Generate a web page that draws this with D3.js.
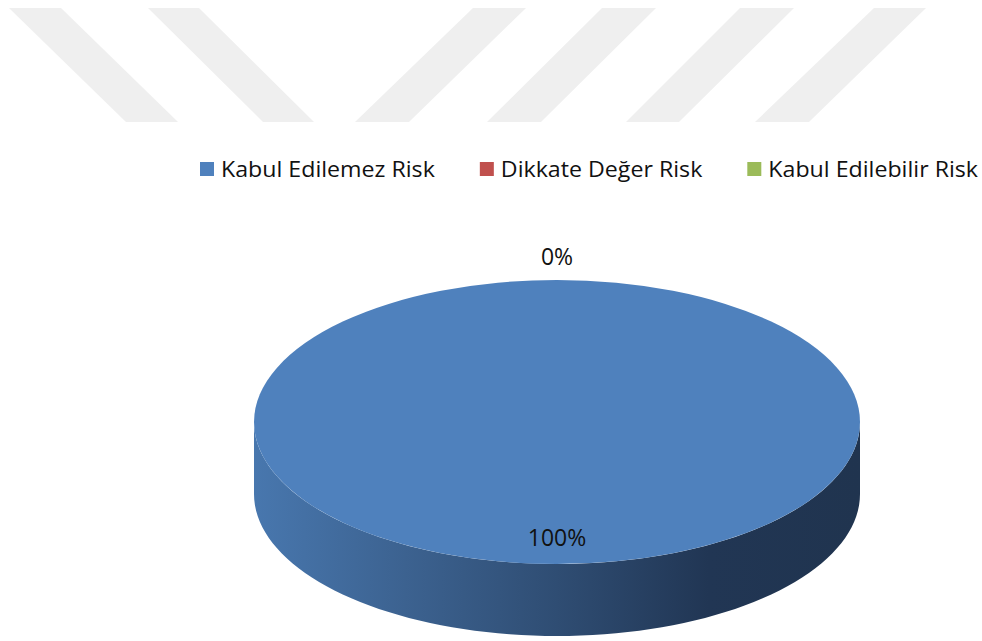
<!DOCTYPE html>
<html lang="tr">
<head>
  <meta charset="UTF-8" />
  <title>Risk Dağılımı</title>
  <script src="https://d3js.org/d3.v7.min.js"></script>
  <style>
    html, body { margin: 0; padding: 0; background: #ffffff; }
    body { font-family: "Open Sans", "DejaVu Sans", sans-serif; }
    svg { display: block; }
    .legend text { font-size: 21px; fill: #111; }
    .label { font-size: 23px; fill: #111; text-anchor: middle; }
  </style>
</head>
<body>
  <div id="chart"></div>

  <script>
    // data
    const categories = ["Kabul Edilemez Risk", "Dikkate Değer Risk", "Kabul Edilebilir Risk"];
    const values = [100, 0, 0];
    const colors = ["#4f81bd", "#c0504d", "#9bbb59"];

    // background watermark stripes (decoration, top of page)
    const stripes = [
      [[9, 8], [61, 8], [178, 122], [126, 122]],
      [[148, 8], [199, 8], [314, 122], [263, 122]],
      [[473, 8], [526, 8], [409, 122], [355, 122]],
      [[602, 8], [656, 8], [541, 122], [487, 122]],
      [[740, 8], [794, 8], [679, 122], [626, 122]],
      [[874, 8], [926, 8], [809, 122], [755, 122]]
    ];

    const width = 982, height = 641;
    const cx = 557, cy = 422;   // centre of top face
    const rx = 303, ry = 142;   // ellipse radii of top face
    const depth = 72;           // thickness of the pie

    const svg = d3.select("#chart")
      .append("svg")
      .attr("width", width)
      .attr("height", height);

    svg.append("g")
      .selectAll("path")
      .data(stripes)
      .enter().append("path")
      .attr("d", d => d3.line()(d) + "Z")
      .attr("fill", "#efefef");

    // side gradient, lighter at left, dark at right
    const defs = svg.append("defs");
    const grad = defs.append("linearGradient")
      .attr("id", "sideGrad")
      .attr("gradientUnits", "userSpaceOnUse")
      .attr("x1", cx - rx).attr("y1", 0)
      .attr("x2", cx + rx).attr("y2", 0);
    [
      [0, "#4877ae"], [0.25, "#3c6290"], [0.5, "#2f4d73"],
      [0.75, "#213654"], [1, "#20344f"]
    ].forEach(([o, c]) => grad.append("stop").attr("offset", o).attr("stop-color", c));

    const pie = d3.pie().sort(null).value(d => d);
    const arcs = pie(values);

    // point on the ellipse, d3 angle convention (0 = 12 o'clock, clockwise)
    const px = (a, k = 1) => cx + Math.sin(a) * rx * k;
    const py = (a, k = 1, dz = 0) => cy - Math.cos(a) * ry * k + dz;

    // visible side walls (front half, angles between pi/2 and 3pi/2)
    const sideData = arcs.map(a => {
      const a0 = Math.max(a.startAngle, Math.PI / 2);
      const a1 = Math.min(a.endAngle, 3 * Math.PI / 2);
      return { a0, a1, index: a.index };
    }).filter(d => d.a1 > d.a0);

    const side = svg.append("g");
    side.selectAll("path")
      .data(sideData)
      .enter().append("path")
      .attr("d", d => {
        const steps = d3.range(0, 1.0001, 1 / 80).map(t => d.a0 + (d.a1 - d.a0) * t);
        const top = steps.map(a => [px(a), py(a)]);
        const bottom = steps.slice().reverse().map(a => [px(a), py(a, 1, depth)]);
        return d3.line()(top.concat(bottom)) + "Z";
      })
      .attr("fill", d => d.index === 0 ? "url(#sideGrad)" : d3.color(colors[d.index]).darker(1));

    // top face
    const arc = d3.arc().innerRadius(0).outerRadius(rx);
    svg.append("g")
      .attr("transform", `translate(${cx},${cy}) scale(1,${ry / rx})`)
      .selectAll("path")
      .data(arcs.filter(a => a.endAngle > a.startAngle))
      .enter().append("path")
      .attr("d", arc)
      .attr("fill", d => colors[d.index]);

    // data labels
    const total = d3.sum(values);
    const fmt = d3.format(".0%");
    const labelData = [];
    arcs.forEach(a => {
      const mid = (a.startAngle + a.endAngle) / 2;
      const share = a.value / total;
      const k = share > 0 ? 0.82 : 1.16;
      const item = { text: fmt(share), x: px(mid, k), y: py(mid, k) };
      if (!labelData.some(l => l.text === item.text && Math.abs(l.x - item.x) < 1 && Math.abs(l.y - item.y) < 1)) {
        labelData.push(item);
      }
    });

    svg.append("g")
      .selectAll("text")
      .data(labelData)
      .enter().append("text")
      .attr("class", "label")
      .attr("x", d => d.x)
      .attr("y", d => d.y)
      .attr("dy", "0.35em")
      .text(d => d.text);

    // legend, stretched to fill the span 200..978 like the original
    const legendLeft = 200, legendRight = 978, swatch = 14, pad = 7, gap = 45;
    const legend = svg.append("g").attr("class", "legend");
    const items = categories.map((name, i) => {
      const g = legend.append("g");
      g.append("rect")
        .attr("y", 162)
        .attr("width", swatch).attr("height", swatch)
        .attr("fill", colors[i]);
      const t = g.append("text").attr("y", 177).text(name);
      return { g, t, w: t.node().getComputedTextLength() };
    });
    const textSpace = (legendRight - legendLeft) - items.length * (swatch + pad) - (items.length - 1) * gap;
    const stretch = textSpace / d3.sum(items, d => d.w);
    let lx = legendLeft;
    items.forEach(it => {
      const w = it.w * stretch;
      it.g.attr("transform", `translate(${lx},0)`);
      it.t.attr("x", swatch + pad)
        .attr("textLength", w)
        .attr("lengthAdjust", "spacingAndGlyphs");
      lx += swatch + pad + w + gap;
    });
  </script>
</body>
</html>
